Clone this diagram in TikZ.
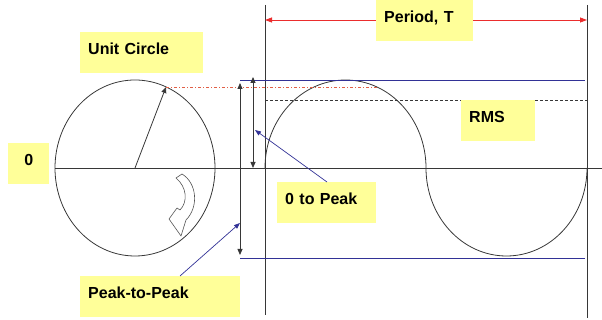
\documentclass[tikz,border=0pt]{standalone}
\usepackage{fontspec}
\setmainfont{Liberation Sans}
\usepackage{tikz}
\usetikzlibrary{arrows.meta}
\definecolor{tagyellow}{RGB}{255,255,153}
\definecolor{lineblue}{RGB}{50,50,150}
\definecolor{periodred}{RGB}{235,45,45}
\definecolor{peakred}{RGB}{225,95,70}
\definecolor{ink}{RGB}{55,55,55}

\begin{document}
\begin{tikzpicture}[x=1pt,y=1pt,
    >={Triangle[length=6pt,width=5pt]},
    ln/.style={ink,line width=0.8pt},
    lvl/.style={lineblue,line width=0.8pt},
    ptr/.style={-{Triangle[length=6pt,width=4.5pt]},lineblue,line width=0.7pt},
    tag/.style={fill=tagyellow,anchor=north west,
      font=\fontsize{16}{19}\selectfont\bfseries,
      inner xsep=8pt,inner ysep=5pt,text height=17pt,text depth=14pt,align=left},
  ]
  \useasboundingbox (0,0) rectangle (602,320);
  \def\rx{80.5pt}
  \def\ry{88pt}

  % -- reference points --
  \coordinate (ctr)  at (135,152);
  \coordinate (tip)  at (166,233);
  \coordinate (axl)  at (55,152);
  \coordinate (axr)  at (602,152);
  \coordinate (t0up) at (265,315);
  \coordinate (t0dn) at (265,5);
  \coordinate (t1up) at (587,315);
  \coordinate (t1dn) at (587,2);

  % -- unit circle --
  \draw[ln] (ctr) ellipse [x radius=80pt, y radius=\ry];
  \draw[ln,->] (ctr) -- (tip);
  \draw[ink!85,line width=0.6pt,fill=white,line join=round]
    (176,142) -- (182,146) .. controls (197,137) and (199,113) .. (186,100)
    -- (181,84) -- (169,101) -- (177,112) -- (180,110)
    .. controls (188,118) and (187,133) .. (176,142) -- cycle;

  % -- axis, period marks and the wave --
  \draw[ln] (axl) -- (axr);
  \draw[ln] (t0up) -- (t0dn);
  \draw[ln] (t1up) -- (t1dn);
  \draw[ln] (265,152)
    arc[start angle=180,end angle=0,x radius=\rx,y radius=\ry]
    arc[start angle=180,end angle=360,x radius=\rx,y radius=\ry];

  % -- levels --
  \coordinate (pkl) at (240,240);
  \coordinate (pkr) at (585,240);
  \coordinate (trl) at (240,62);
  \coordinate (trr) at (585,62);
  \draw[lvl] (pkl) -- (pkr);
  \draw[lvl] (trl) -- (trr);
  \coordinate (pke) at (377,233);
  \draw[peakred,line width=0.7pt,dash pattern=on 3pt off 2pt on 1pt off 2pt] (tip) -- (pke);
  \coordinate (rmsl) at (265,220);
  \coordinate (rmsr) at (587,220);
  \draw[ln,line width=0.7pt,dash pattern=on 3pt off 2pt] (rmsl) -- (rmsr);

  % -- period arrow --
  \coordinate (perl) at (265,300);
  \coordinate (perr) at (587,300);
  \draw[<->,periodred,line width=0.8pt,>={Triangle[length=7pt,width=5pt]}] (perl) -- (perr);

  % -- amplitude arrows --
  \coordinate (ptpup) at (240,237);
  \coordinate (ptpdn) at (240,65);
  \coordinate (ztpup) at (253,243);
  \coordinate (ztpdn) at (253,152);
  \draw[ln,<->] (ptpup) -- (ptpdn);
  \draw[ln,<->] (ztpup) -- (ztpdn);

  % -- labels --
  \node[tag,text width=107pt] (uc)   at (80,288)  {Unit Circle};
  \node[tag,text width=25pt,align=center] (zero) at (8,177) {0};
  \node[tag,text width=81pt]  (per)  at (376,320) {Period, T};
  \node[tag,text width=58pt]  (rms)  at (461,220) {RMS};
  \node[tag,text width=83pt]  (ztp)  at (277,138) {0 to Peak};
  \node[tag,text width=144pt] (ptp)  at (80,44)   {Peak-to-Peak};

  % -- pointers --
  \coordinate (ztpm) at (255,190);
  \coordinate (ptpm) at (240,97);
  \draw[ptr] ([xshift=50pt]ztp.north west) -- (ztpm);
  \draw[ptr] ([xshift=100pt]ptp.north west) -- (ptpm);
\end{tikzpicture}
\end{document}
